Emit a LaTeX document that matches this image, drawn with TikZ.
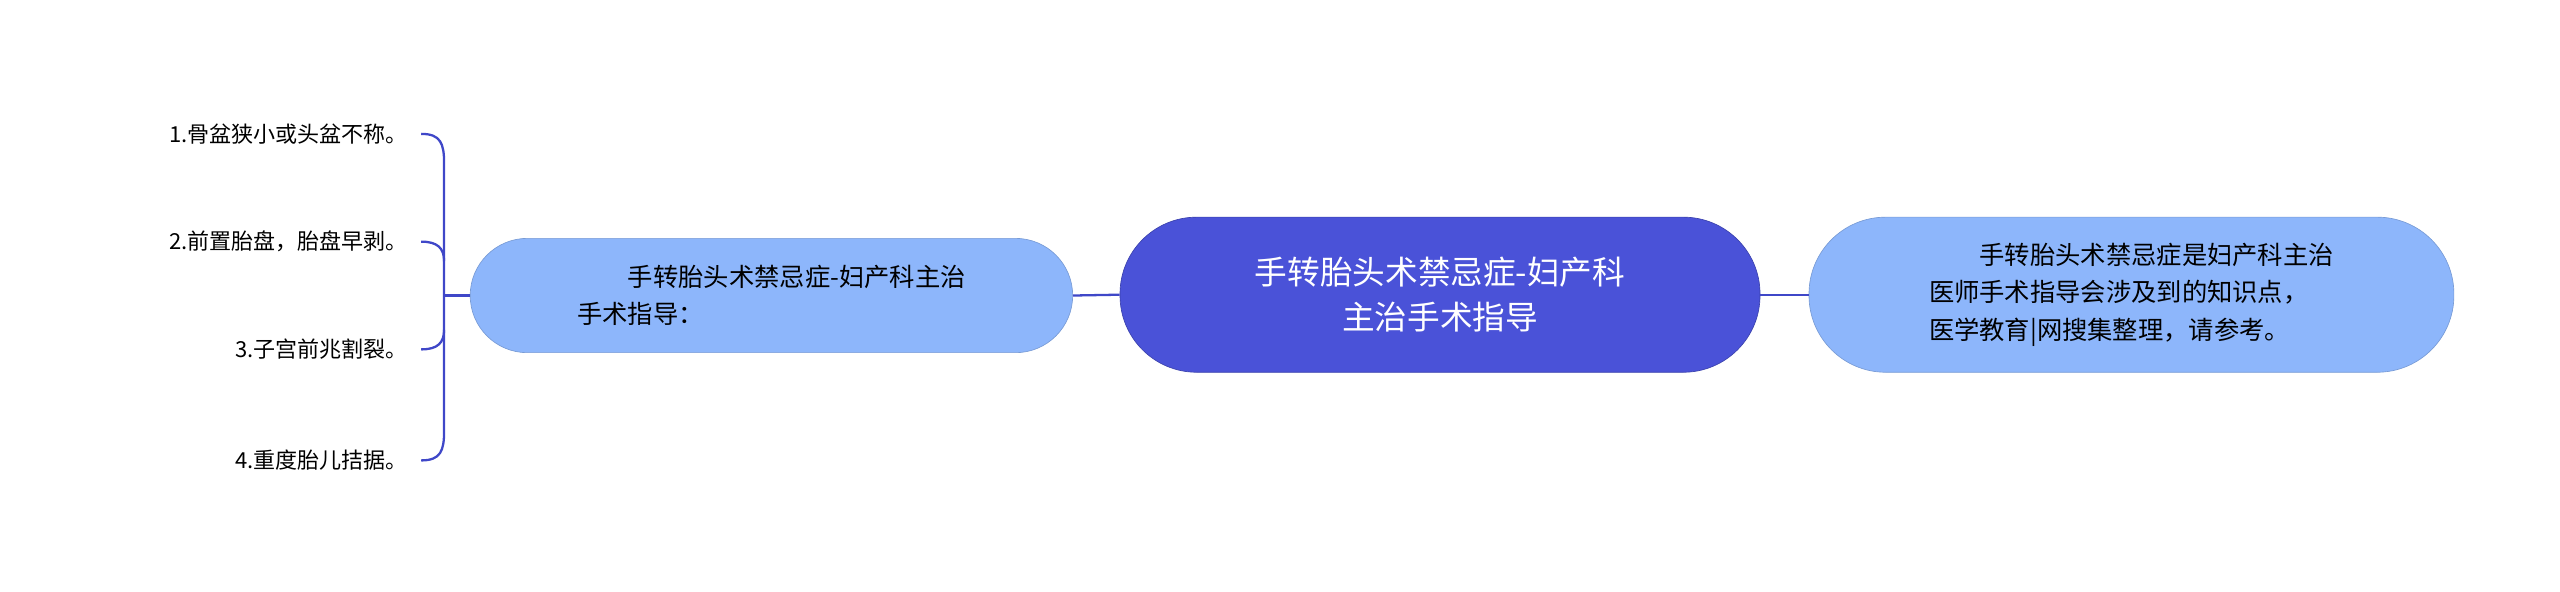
\documentclass[tikz,border=0pt]{standalone}
\usepackage{fontspec}
\setmainfont{Noto Sans CJK SC}
\definecolor{centc}{HTML}{4A52D8}
\definecolor{lightc}{HTML}{8DB6FB}
\definecolor{linec}{HTML}{3F47C8}
\begin{document}
\begin{tikzpicture}[x=1pt,y=-1pt,
  centbox/.style={rounded corners=47pt,fill=centc,draw=centc!80!black,text=white,font=\fontsize{20}{28}\selectfont,align=center},
  subbox/.style={fill=lightc,draw=lightc!85!black,text=black,font=\fontsize{15.5}{23}\selectfont,align=left},
  leaf/.style={anchor=east,font=\fontsize{13.5}{16}\selectfont,inner sep=0pt},
  conn/.style={draw=linec,line width=1.4pt}]
\useasboundingbox (0,0) rectangle (1568,362);
\fill[centc] (686,133) rectangle (1078,228);
\path[fill=white] (686,133) rectangle (1078,228);
\node[centbox,minimum width=392pt,minimum height=95pt] (c) at (882,180.5) {手转胎头术禁忌症-妇产科\\主治手术指导};
\node[subbox,rounded corners=47pt,minimum width=395pt,minimum height=95pt] (r) at (1305.5,180.5) {\hspace*{2em}手转胎头术禁忌症是妇产科主治\\医师手术指导会涉及到的知识点，\\医学教育|网搜集整理，请参考。};
\node[subbox,rounded corners=35pt,minimum width=369pt,minimum height=70pt] (l) at (472.5,181) {\hspace*{2em}手转胎头术禁忌症-妇产科主治\\手术指导：};
\draw[conn] (c.west) -- (l.east);
\draw[conn] (c.east) -- (r.west);
\coordinate (b) at (272,181);
\draw[conn] (l.west) -- (b);
\node[leaf] (a1) at (250,82) {1.骨盆狭小或头盆不称。};
\node[leaf] (a2) at (250,148) {2.前置胎盘，胎盘早剥。};
\node[leaf] (a3) at (250,214) {3.子宫前兆割裂。};
\node[leaf] (a4) at (250,282) {4.重度胎儿拮据。};
\draw[conn] (258,82) .. controls (270,82) and (272,88) .. (272,100) -- (272,264) .. controls (272,276) and (270,282) .. (258,282);
\draw[conn] (258,148) .. controls (268,148) and (272,152) .. (272,160);
\draw[conn] (258,214) .. controls (268,214) and (272,210) .. (272,202);
\end{tikzpicture}
\end{document}
